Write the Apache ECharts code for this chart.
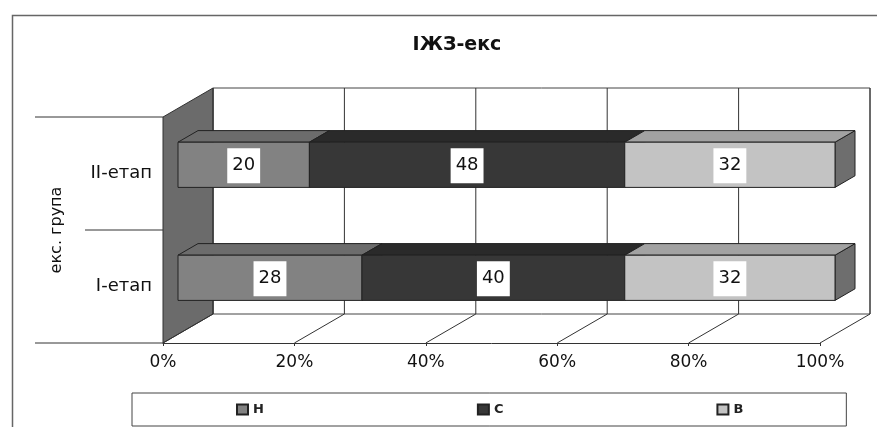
<!DOCTYPE html>
<html>
<head>
<meta charset="utf-8">
<script src="https://cdn.jsdelivr.net/npm/echarts@6/dist/echarts.min.js"></script>
<style>html,body{margin:0;padding:0;background:#fff}#c{width:877px;height:427px}</style>
</head>
<body>
<div id="c"></div>
<script>
// ---- data ----
const title = 'ІЖЗ-екс';
const categories = ['І-етап', 'ІІ-етап'];
const seriesNames = ['Н', 'С', 'В'];
const valuesN = [28, 20];
const valuesC = [40, 48];
const valuesB = [32, 32];
const xTicks = [0, 20, 40, 60, 80, 100];
const yAxisName = 'екс. група';

// ---- styling ----
const FONT = '"DejaVu Sans", "Liberation Sans", Arial, sans-serif';
const DX = 50, DY = -29;      // depth of the 3D box
const BF = 0.3, BB = 0.7;     // bar front/back depth fractions
const faceColors = [
  {front: '#828282', top: '#6c6c6c', side: '#5e5e5e'},
  {front: '#373737', top: '#2a2a2a', side: '#222222'},
  {front: '#c3c3c3', top: '#a2a2a2', side: '#6e6e6e'}
];
const EDGE = '#222';

const seriesValues = [valuesN, valuesC, valuesB];
function stackedData(idx) {
  return categories.map((c, ci) => {
    let start = 0;
    for (let k = 0; k < idx; k++) start += seriesValues[k][ci];
    return [ci, start, seriesValues[idx][ci]];
  });
}

function wallItem(params, api) {
  const cs = params.coordSys;
  const x0 = cs.x, y0 = cs.y, x1 = cs.x + cs.width, y1 = cs.y + cs.height;
  const band = api.size([0, 1])[1];
  const ymid = api.coord([0, 0])[1] - band / 2;
  return {
    type: 'group',
    children: [
      {type: 'rect', shape: {x: x0 + DX, y: y0 + DY, width: cs.width, height: cs.height},
        style: {fill: '#fff', stroke: '#444', lineWidth: 1}},
      {type: 'polygon', shape: {points: [[x0, y0], [x0 + DX, y0 + DY], [x0 + DX, y1 + DY], [x0, y1]]},
        style: {fill: '#6b6b6b', stroke: '#333', lineWidth: 1}},
      {type: 'line', shape: {x1: x0 - 128, y1: y0, x2: x0, y2: y0}, style: {stroke: '#333', lineWidth: 1}},
      {type: 'line', shape: {x1: x0 - 78, y1: ymid, x2: x0, y2: ymid}, style: {stroke: '#333', lineWidth: 1}},
      {type: 'line', shape: {x1: x0 - 128, y1: y1, x2: x0, y2: y1}, style: {stroke: '#333', lineWidth: 1}}
    ]
  };
}

function gridItem(params, api) {
  const cs = params.coordSys;
  const y0 = cs.y, y1 = cs.y + cs.height;
  const x = api.coord([api.value(0), 0])[0];
  return {
    type: 'group',
    children: [
      {type: 'line', shape: {x1: x + DX, y1: y0 + DY, x2: x + DX, y2: y1 + DY}, style: {stroke: '#333', lineWidth: 1}},
      {type: 'line', shape: {x1: x + DX, y1: y1 + DY, x2: x, y2: y1}, style: {stroke: '#333', lineWidth: 1}}
    ]
  };
}

function barItemFactory(si) {
  const col = faceColors[si];
  return function (params, api) {
    const cat = api.value(0), start = api.value(1), val = api.value(2);
    const p0 = api.coord([start, cat]), p1 = api.coord([start + val, cat]);
    const bh = api.size([0, 1])[1] * 0.4;
    const fx = DX * BF, fy = DY * BF, ddx = DX * (BB - BF), ddy = DY * (BB - BF);
    const xl = p0[0] + fx, xr = p1[0] + fx, yc = p0[1] + fy;
    const yt = yc - bh / 2, yb = yc + bh / 2;
    return {
      type: 'group',
      children: [
        {type: 'polygon', shape: {points: [[xr, yt], [xr + ddx, yt + ddy], [xr + ddx, yb + ddy], [xr, yb]]},
          style: {fill: col.side, stroke: EDGE, lineWidth: 1}},
        {type: 'polygon', shape: {points: [[xl, yt], [xl + ddx, yt + ddy], [xr + ddx, yt + ddy], [xr, yt]]},
          style: {fill: col.top, stroke: EDGE, lineWidth: 1}},
        {type: 'rect', shape: {x: xl, y: yt, width: xr - xl, height: bh},
          style: {fill: col.front, stroke: EDGE, lineWidth: 1}},
        {type: 'text', x: (xl + xr) / 2, y: yc + 1,
          style: {text: String(val), fill: '#111', fontSize: 18, fontFamily: FONT,
            align: 'center', verticalAlign: 'middle', backgroundColor: '#fff', padding: [9, 5, 8, 5]}}
      ]
    };
  };
}

const chart = echarts.init(document.getElementById('c'));
const series = [
  {type: 'custom', name: '_wall', coordinateSystem: 'cartesian2d', renderItem: wallItem,
    data: [[0, 0]], encode: {x: 0, y: 1}, z: 1, silent: true},
  {type: 'custom', name: '_grid', coordinateSystem: 'cartesian2d', renderItem: gridItem,
    data: xTicks.map(v => [v, 0]), encode: {x: 0, y: 1}, z: 2, silent: true}
];
seriesNames.forEach((n, i) => {
  series.push({
    type: 'custom', name: n, coordinateSystem: 'cartesian2d', renderItem: barItemFactory(i),
    data: stackedData(i), encode: {x: [1, 2], y: 0}, z: 5 + i,
    itemStyle: {color: faceColors[i].front, borderColor: '#222', borderWidth: 1}
  });
});

chart.setOption({
  animation: false,
  backgroundColor: '#fff',
  title: {
    text: title, left: 452, top: 31, textAlign: 'center',
    textStyle: {fontFamily: FONT, fontSize: 19, fontWeight: 'bold', color: '#111'}
  },
  legend: {
    data: seriesNames, left: 132, top: 393, orient: 'horizontal',
    padding: [10, 103, 10, 104], itemGap: 213, itemWidth: 11, itemHeight: 10,
    borderColor: '#444', borderWidth: 1, icon: 'rect',
    textStyle: {fontFamily: FONT, fontSize: 13, fontWeight: 'bold', color: '#222'}
  },
  graphic: [
    {type: 'rect', left: 10, top: 13, shape: {width: 900, height: 440},
      style: {fill: null, stroke: '#666', lineWidth: 1.5}, silent: true, z: -1}
  ],
  grid: {left: 163, top: 117, width: 657, height: 226, containLabel: false},
  xAxis: {
    type: 'value', min: 0, max: 100, interval: 20,
    axisLine: {show: true, lineStyle: {color: '#333'}},
    axisTick: {show: true, length: 3, lineStyle: {color: '#333'}},
    splitLine: {show: false},
    axisLabel: {formatter: '{value}%', fontFamily: FONT, fontSize: 17, color: '#111', margin: 11}
  },
  yAxis: {
    type: 'category', data: categories,
    name: yAxisName, nameLocation: 'middle', nameRotate: 90, nameGap: 98,
    nameTextStyle: {fontFamily: FONT, fontSize: 16, color: '#111'},
    axisLine: {show: false}, axisTick: {show: false}, splitLine: {show: false},
    axisLabel: {fontFamily: FONT, fontSize: 18, color: '#111', margin: 11}
  },
  series: series
});
</script>
</body>
</html>
